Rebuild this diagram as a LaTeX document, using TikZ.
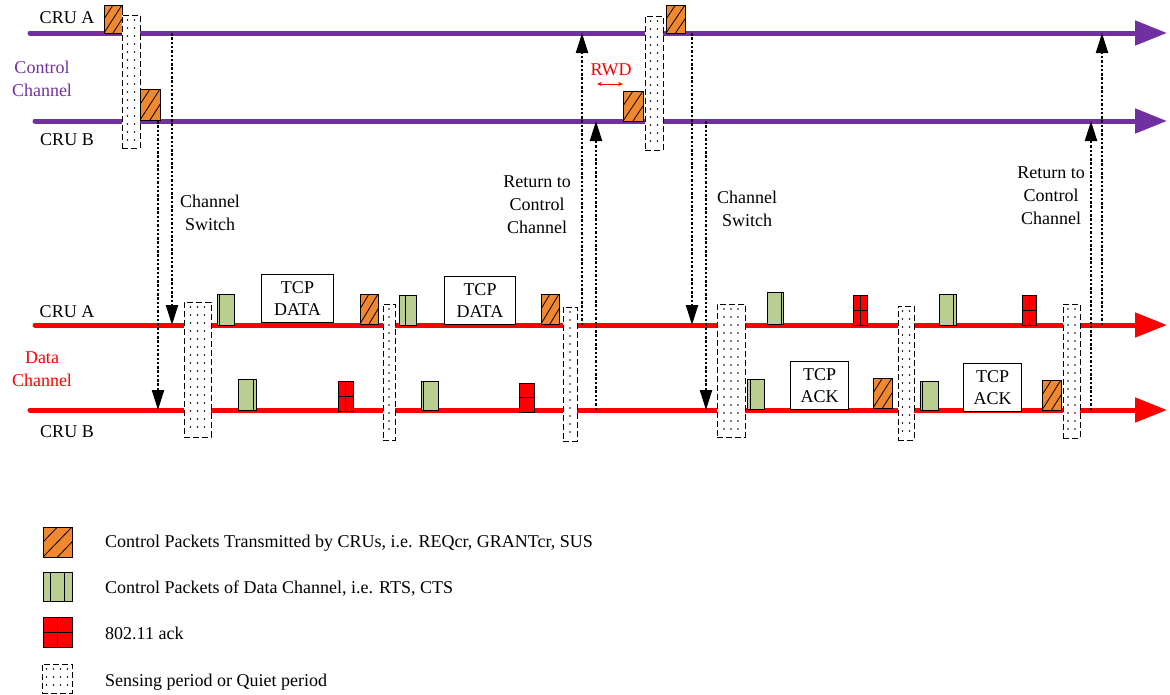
\documentclass[tikz,border=0pt]{standalone}
\usepackage{fontspec}
\setmainfont{Liberation Serif}
\usetikzlibrary{arrows.meta,calc}
\definecolor{ccpurple}{RGB}{112,48,160}
\definecolor{pkorange}{RGB}{240,136,48}
\definecolor{pkgreen}{RGB}{186,206,146}
\definecolor{pkred}{RGB}{255,0,0}
\newcommand\sensebox[5]{%
  \node[sense, anchor=north west, minimum width={#4-#2}, minimum height={#5-#3}] (#1) at (#2,#3) {};
  \pgfmathtruncatemacro\sbn{floor((#4-#2-2)/7)}%
  \pgfmathsetmacro\sbcx{(#2+#4)/2}%
  \pgfmathsetmacro\sbya{#3+5}%
  \pgfmathsetmacro\sbyb{#3+13}%
  \pgfmathsetmacro\sbyc{#5-4}%
  \foreach \ii in {1,...,\sbn}{%
    \pgfmathsetmacro\sbx{\sbcx+(\ii-(\sbn+1)/2)*7}%
    \foreach \yy in {\sbya,\sbyb,...,\sbyc}{\fill (\sbx,\yy) circle (0.9pt);}%
  }%
}
\begin{document}
\begin{tikzpicture}[x=1pt,y=-1pt,
  font=\fontsize{18}{23}\selectfont,
  chline/.style={line width=5pt, line cap=round, -{Triangle[length=32pt,width=24pt]}},
  dotarrow/.style={line width=2.2pt, dash pattern=on 2.5pt off 1.8pt, -{Triangle[length=20pt,width=12pt]}},
  pk/.style={draw=black, line width=1pt, inner sep=0pt, outer sep=0pt, anchor=south west},
  orpk/.style={pk, fill=pkorange, path picture={\draw[line width=0.8pt]
      (path picture bounding box.south west) -- (path picture bounding box.north east)
      ($(path picture bounding box.south west)!0.5!(path picture bounding box.south east)$) -- ($(path picture bounding box.north west)!1.5!(path picture bounding box.north east)$)
      ($(path picture bounding box.south west)!-0.5!(path picture bounding box.south east)$) -- ($(path picture bounding box.north west)!0.5!(path picture bounding box.north east)$);}},
  grpk/.style={pk, fill=pkgreen, path picture={\draw[line width=1pt]
      ($(path picture bounding box.south west)!#1!(path picture bounding box.south east)$) -- ($(path picture bounding box.north west)!#1!(path picture bounding box.north east)$);}},
  grpk/.default=0.5,
  grtwo/.style={pk, fill=pkgreen, path picture={\draw[line width=1pt]
      ($(path picture bounding box.south west)!0.27!(path picture bounding box.south east)$) -- ($(path picture bounding box.north west)!0.27!(path picture bounding box.north east)$)
      ($(path picture bounding box.south west)!0.73!(path picture bounding box.south east)$) -- ($(path picture bounding box.north west)!0.73!(path picture bounding box.north east)$);}},
  rdpk/.style={pk, fill=pkred, path picture={\draw[line width=1pt]
      (path picture bounding box.north) -- (path picture bounding box.south)
      (path picture bounding box.west) -- (path picture bounding box.east);}},
  rdh/.style={pk, fill=pkred, path picture={\draw[line width=1pt]
      (path picture bounding box.west) -- (path picture bounding box.east);}},
  tcpbox/.style={draw, line width=1pt, fill=white, inner sep=0pt, anchor=south west, align=center, font=\fontsize{18}{22}\selectfont},
  sense/.style={draw, line width=1pt, dash pattern=on 6pt off 3pt, fill=white, inner sep=0pt, outer sep=0pt},
  lbl/.style={align=center, inner sep=0pt},
  lgtxt/.style={anchor=west, inner sep=0pt}
]
\useasboundingbox (0,0) rectangle (1170,694);

% channel lines
\coordinate (cAs) at (30,33);  \coordinate (cAe) at (1167,33);
\coordinate (cBs) at (35,121); \coordinate (cBe) at (1167,121);
\coordinate (dAs) at (35,325); \coordinate (dAe) at (1167,325);
\coordinate (dBs) at (30,410); \coordinate (dBe) at (1167,410);
\draw[chline, ccpurple] (cAs) -- (cAe);
\draw[chline, ccpurple] (cBs) -- (cBe);
\draw[chline, pkred] (dAs) -- (dAe);
\draw[chline, pkred] (dBs) -- (dBe);

% channel switch / return arrows
\coordinate (csA1s) at (172,33);  \coordinate (csA1e) at (172,325);
\coordinate (csB1s) at (158,121); \coordinate (csB1e) at (158,410);
\coordinate (rtA1s) at (582,325); \coordinate (rtA1e) at (582,33);
\coordinate (rtB1s) at (596,410); \coordinate (rtB1e) at (596,121);
\coordinate (csA2s) at (692,33);  \coordinate (csA2e) at (692,325);
\coordinate (csB2s) at (706,121); \coordinate (csB2e) at (706,410);
\coordinate (rtA2s) at (1102,325); \coordinate (rtA2e) at (1102,33);
\coordinate (rtB2s) at (1091,410); \coordinate (rtB2e) at (1091,121);
\foreach \a in {csA1,csB1,rtA1,rtB1,csA2,csB2,rtA2,rtB2}
  \draw[dotarrow] (\a s) -- (\a e);

% control channel packets
\node[orpk, minimum width=18pt, minimum height=28pt] (oA1) at (104,33) {};
\node[orpk, minimum width=20pt, minimum height=31pt] (oB1) at (140,120) {};
\node[orpk, minimum width=19pt, minimum height=28pt] (oA2) at (666,33) {};
\node[orpk, minimum width=20pt, minimum height=30pt] (oB2) at (623,121) {};

% data channel CRU A
\node[grpk=0.15, minimum width=17pt, minimum height=31pt] (gA1) at (217,325) {};
\node[tcpbox, minimum width=72pt, minimum height=48pt] (tdA1) at (261,323) {TCP\\DATA};
\node[orpk, minimum width=18pt, minimum height=30pt] (oDA1) at (360,324) {};
\node[grpk=0.4, minimum width=17pt, minimum height=30pt] (gA2) at (399,325) {};
\node[tcpbox, minimum width=71pt, minimum height=48pt] (tdA2) at (444,325) {TCP\\DATA};
\node[orpk, minimum width=18pt, minimum height=30pt] (oDA2) at (541,324) {};
\node[grpk=0.9, minimum width=16pt, minimum height=32pt] (gA3) at (767,324) {};
\node[rdpk, minimum width=14pt, minimum height=30pt] (rA3) at (853,325) {};
\node[grpk=0.85, minimum width=17pt, minimum height=31pt] (gA4) at (939,325) {};
\node[rdpk, minimum width=14pt, minimum height=30pt] (rA4) at (1022,325) {};

% data channel CRU B
\node[grpk=0.85, minimum width=18pt, minimum height=31pt] (gB1) at (238,410) {};
\node[rdpk, minimum width=15pt, minimum height=30pt] (rB1) at (338,411) {};
\node[grpk=0.12, minimum width=17pt, minimum height=29pt] (gB2) at (421,410) {};
\node[rdh, minimum width=15pt, minimum height=29pt] (rB2) at (519,412) {};
\node[grpk=0.2, minimum width=17pt, minimum height=30pt] (gB3) at (747,409) {};
\node[tcpbox, minimum width=58pt, minimum height=48pt] (taB1) at (790,410) {TCP\\ACK};
\node[orpk, minimum width=19pt, minimum height=30pt] (oDB1) at (873,408) {};
\node[grpk=0.15, minimum width=18pt, minimum height=29pt] (gB4) at (920,410) {};
\node[tcpbox, minimum width=58pt, minimum height=48pt] (taB2) at (963,412) {TCP\\ACK};
\node[orpk, minimum width=19pt, minimum height=30pt] (oDB2) at (1042,410) {};

% sensing / quiet periods
\sensebox{sc1}{122}{15}{140}{148}
\sensebox{sc2}{645}{16}{663}{150}
\sensebox{sd1}{184}{302}{211}{437}
\sensebox{sd2}{383}{304}{395}{440}
\sensebox{sd3}{563}{307}{577}{441}
\sensebox{sd4}{717}{304}{745}{437}
\sensebox{sd5}{898}{306}{914}{440}
\sensebox{sd6}{1063}{304}{1080}{438}

% RWD
\coordinate (rwdL) at (597,84); \coordinate (rwdR) at (623,84);
\draw[pkred, line width=0.8pt, {Stealth[length=5pt,width=4pt]}-{Stealth[length=5pt,width=4pt]}] (rwdL) -- (rwdR);
\node[lbl, text=pkred] (rwd) at (611,70) {RWD};

% labels
\node[lbl] (lCRUAc) at (67,18) {CRU A};
\node[lbl, text=ccpurple] (lCC) at (42,79) {Control\\Channel};
\node[lbl] (lCRUBc) at (67,140) {CRU B};
\node[lbl] (lCRUAd) at (67,312) {CRU A};
\node[lbl, text=pkred] (lDC) at (42,369) {Data\\Channel};
\node[lbl] (lCRUBd) at (67,432) {CRU B};
\node[lbl] (lCS1) at (210,213) {Channel\\Switch};
\node[lbl] (lRT1) at (537,205) {Return to\\Control\\Channel};
\node[lbl] (lCS2) at (747,209) {Channel\\Switch};
\node[lbl] (lRT2) at (1051,196) {Return to\\Control\\Channel};

% legend
\node[orpk, minimum width=29pt, minimum height=30pt] (lgO) at (43,557) {};
\node[grtwo, minimum width=29pt, minimum height=29pt] (lgG) at (43,601) {};
\node[rdpk, minimum width=29pt, minimum height=30pt] (lgR) at (43,647) {};
\sensebox{lgS}{42}{664}{72}{693}
\node[lgtxt] (tO) at (105,543) {Control Packets Transmitted by CRUs, i.e. REQcr, GRANTcr, SUS};
\node[lgtxt] (tG) at (105,589) {Control Packets of Data Channel, i.e. RTS, CTS};
\node[lgtxt] (tR) at (105,633) {802.11 ack};
\node[lgtxt] (tS) at (105,682) {Sensing period or Quiet period};
\end{tikzpicture}
\end{document}
